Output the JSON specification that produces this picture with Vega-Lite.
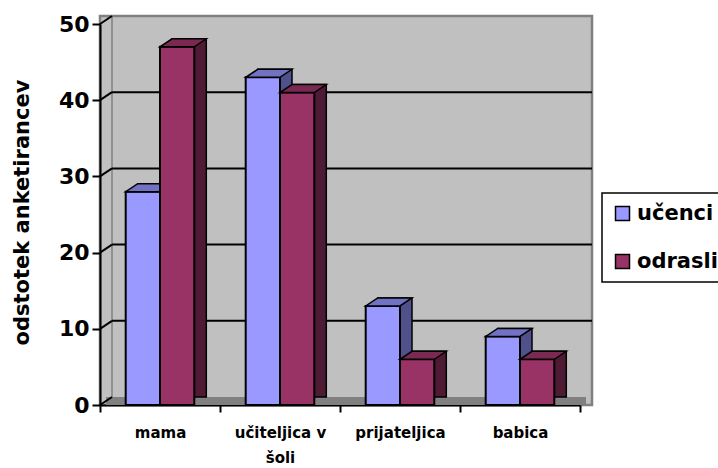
{
  "$schema": "https://vega.github.io/schema/vega-lite/v6.json",
  "width": 492,
  "height": 389,
  "autosize": {"type": "none"},
  "padding": {"left": 100, "top": 16, "right": 126, "bottom": 63},
  "background": "white",
  "datasets": {
    "bars": [
      {"k": "mama", "s": "učenci", "v": 28},
      {"k": "mama", "s": "odrasli", "v": 47},
      {"k": "učiteljica v šoli", "s": "učenci", "v": 43},
      {"k": "učiteljica v šoli", "s": "odrasli", "v": 41},
      {"k": "prijateljica", "s": "učenci", "v": 13},
      {"k": "prijateljica", "s": "odrasli", "v": 6},
      {"k": "babica", "s": "učenci", "v": 9},
      {"k": "babica", "s": "odrasli", "v": 6}
    ],
    "grid": [{"v": 0}, {"v": 10}, {"v": 20}, {"v": 30}, {"v": 40}, {"v": 50}]
  },
  "data": {"name": "bars"},
  "config": {
    "view": {"fill": "#c0c0c0", "stroke": "#808080", "strokeWidth": 2.5},
    "axis": {"labelFont": "DejaVu Sans", "labelFontWeight": "bold", "labelColor": "black", "domainColor": "black", "tickColor": "black", "domainWidth": 2, "tickWidth": 2, "grid": false},
    "axisX": {"tickBand": "extent", "tickSize": 7, "labelFontSize": 15, "labelPadding": 13, "labelAngle": 0, "labelLineHeight": 25, "labelLimit": 0, "labelExpr": "datum.value == 'učiteljica v šoli' ? ['učiteljica v', 'šoli'] : datum.value"},
    "axisY": {"tickCount": 5, "labelFontSize": 22, "tickSize": 8, "labelPadding": 3, "titleFont": "DejaVu Sans", "titleFontSize": 21, "titleFontWeight": "bold", "titleColor": "black", "titleAngle": 270, "titleX": -78, "titleY": 196, "titleBaseline": "middle", "titleAlign": "center"},
    "legend": {"orient": "none", "legendX": 502, "legendY": 177, "strokeColor": "black", "strokeWidth": 1.5, "fillColor": "white", "padding": 10, "symbolType": "square", "symbolSize": 196, "symbolStrokeColor": "black", "symbolStrokeWidth": 1.5, "symbolOpacity": 1, "labelFont": "DejaVu Sans", "labelFontSize": 21, "labelFontWeight": "bold", "labelColor": "black", "rowPadding": 26, "labelOffset": 4}
  },
  "layer": [
    {
      "data": {"name": "grid"},
      "transform": [{"filter": "datum.v === 0"}],
      "mark": {"type": "rule", "color": "#808080", "strokeWidth": 8, "yOffset": -4, "y2Offset": -4, "xOffset": 6, "x2Offset": 66},
      "encoding": {
        "x": {"datum": "mama", "type": "nominal", "bandPosition": 0, "scale": {"domain": ["mama", "učiteljica v šoli", "prijateljica", "babica"], "range": [0, 480], "paddingInner": 0, "paddingOuter": 0}},
        "x2": {"datum": "babica"},
        "y": {"field": "v", "type": "quantitative", "title": "odstotek anketirancev", "scale": {"domain": [0, 50], "range": [389, 8], "nice": false, "zero": true}},
        "y2": {"field": "v"}
      }
    },
    {
      "data": {"name": "grid"},
      "transform": [{"filter": "datum.v === 0"}],
      "mark": {"type": "rule", "color": "#808080", "strokeWidth": 1.5, "xOffset": 12, "yOffset": -8, "y2Offset": -8},
      "encoding": {
        "x": {"datum": "mama", "type": "nominal", "bandPosition": 0},
        "y": {"datum": 0, "type": "quantitative"},
        "y2": {"datum": 50}
      }
    },
    {
      "data": {"name": "grid"},
      "transform": [{"filter": "datum.v > 0 && datum.v < 50"}],
      "mark": {"type": "rule", "color": "black", "strokeWidth": 2, "yOffset": -8, "y2Offset": -8, "xOffset": 12, "x2Offset": 72},
      "encoding": {
        "x": {"datum": "mama", "type": "nominal", "bandPosition": 0},
        "x2": {"datum": "babica"},
        "y": {"field": "v", "type": "quantitative", "title": "odstotek anketirancev"},
        "y2": {"field": "v"}
      }
    },
    {
      "data": {"name": "grid"},
      "mark": {"type": "rule", "color": "black", "strokeWidth": 2, "x2Offset": -48, "y2Offset": -8},
      "encoding": {
        "x": {"datum": "mama", "type": "nominal", "bandPosition": 0},
        "x2": {"datum": "mama"},
        "y": {"field": "v", "type": "quantitative", "title": "odstotek anketirancev"},
        "y2": {"field": "v"}
      }
    },
    {
      "transform": [{"filter": "datum.s === 'učenci'"}],
      "mark": {"type": "bar", "width": 34.3, "fill": "#50508a", "stroke": "black", "strokeWidth": 1.5, "xOffset": -5.15, "yOffset": -8, "y2Offset": -8},
      "encoding": {
        "x": {"field": "k", "type": "nominal", "title": null},
        "y": {"field": "v", "type": "quantitative", "title": "odstotek anketirancev"}
      }
    },
    {
      "transform": [{"filter": "datum.s === 'učenci'"}],
      "mark": {"type": "bar", "width": 34.3, "stroke": "black", "strokeWidth": 2, "xOffset": -17.15},
      "encoding": {
        "x": {"field": "k", "type": "nominal", "title": null},
        "y": {"field": "v", "type": "quantitative", "title": "odstotek anketirancev"},
        "color": {"field": "s", "type": "nominal", "scale": {"domain": ["učenci", "odrasli"], "range": ["#9999ff", "#993366"]}, "legend": {"title": null}}
      }
    },
    {
      "transform": [{"filter": "datum.s === 'učenci'"}],
      "mark": {"type": "point", "shape": "M-17.14,0L17.14,0L29.14,-8L-5.14,-8Z", "size": 4, "filled": true, "fill": "#7272c4", "stroke": "black", "strokeWidth": 1.5, "opacity": 1, "xOffset": -17.15},
      "encoding": {
        "x": {"field": "k", "type": "nominal", "title": null},
        "y": {"field": "v", "type": "quantitative", "title": "odstotek anketirancev"}
      }
    },
    {
      "transform": [{"filter": "datum.s === 'odrasli'"}],
      "mark": {"type": "bar", "width": 34.3, "fill": "#4f1a34", "stroke": "black", "strokeWidth": 1.5, "xOffset": 29.15, "yOffset": -8, "y2Offset": -8},
      "encoding": {
        "x": {"field": "k", "type": "nominal", "title": null},
        "y": {"field": "v", "type": "quantitative", "title": "odstotek anketirancev"}
      }
    },
    {
      "transform": [{"filter": "datum.s === 'odrasli'"}],
      "mark": {"type": "bar", "width": 34.3, "stroke": "black", "strokeWidth": 2, "xOffset": 17.15},
      "encoding": {
        "x": {"field": "k", "type": "nominal", "title": null},
        "y": {"field": "v", "type": "quantitative", "title": "odstotek anketirancev"},
        "color": {"field": "s", "type": "nominal", "legend": {"title": null}}
      }
    },
    {
      "transform": [{"filter": "datum.s === 'odrasli'"}],
      "mark": {"type": "point", "shape": "M-17.14,0L17.14,0L29.14,-8L-5.14,-8Z", "size": 4, "filled": true, "fill": "#7a2953", "stroke": "black", "strokeWidth": 1.5, "opacity": 1, "xOffset": 17.15},
      "encoding": {
        "x": {"field": "k", "type": "nominal", "title": null},
        "y": {"field": "v", "type": "quantitative", "title": "odstotek anketirancev"}
      }
    }
  ]
}
